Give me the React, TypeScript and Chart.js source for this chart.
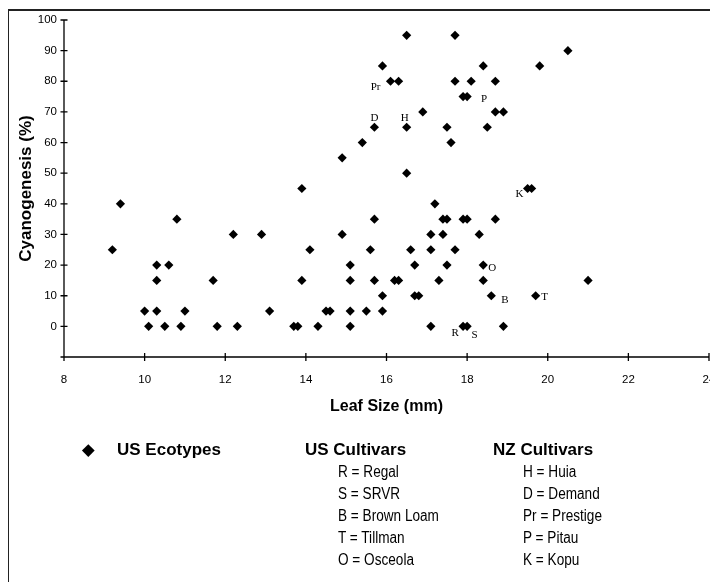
import React, { useEffect, useRef } from 'react';
import { Chart, registerables } from 'chart.js';

Chart.register(...registerables);

// Leaf size (mm) and cyanogenesis (%) for each plotted point
const leafSize = [
  9.2, 9.4, 10.0, 10.1, 10.3, 10.3, 10.3, 10.5, 10.6, 10.8, 10.9, 11.0, 11.7, 11.8, 12.2, 12.3,
  12.9, 13.1, 13.7, 13.8, 13.9, 13.9, 14.1, 14.3, 14.5, 14.6, 14.9, 14.9, 15.1, 15.1, 15.1, 15.1,
  15.4, 15.5, 15.6, 15.7, 15.7, 15.7, 15.9, 15.9, 15.9, 16.1, 16.3, 16.2, 16.3, 16.5, 16.5, 16.5,
  16.6, 16.7, 16.7, 16.8, 16.9, 17.1, 17.1, 17.1, 17.2, 17.3, 17.4, 17.4, 17.5, 17.5, 17.5, 17.6,
  17.7, 17.7, 17.7, 17.9, 18.0, 17.9, 18.0, 17.9, 18.0, 18.1, 18.3, 18.4, 18.4, 18.4, 18.5, 18.6,
  18.7, 18.7, 18.7, 18.9, 18.9, 19.5, 19.6, 19.7, 19.8, 20.5, 21.0,
];
const cyanogenesis = [
  25, 40, 5, 0, 20, 15, 5, 0, 20, 35, 0, 5, 15, 0, 30, 0,
  30, 5, 0, 0, 45, 15, 25, 0, 5, 5, 30, 55, 20, 15, 5, 0,
  60, 5, 25, 65, 35, 15, 85, 10, 5, 80, 80, 15, 15, 95, 65, 50,
  25, 20, 10, 10, 70, 30, 25, 0, 40, 15, 35, 30, 35, 20, 65, 60,
  95, 80, 25, 75, 75, 35, 35, 0, 0, 80, 30, 85, 20, 15, 65, 10,
  80, 70, 35, 70, 0, 45, 45, 10, 85, 90, 15,
];

// Cultivar labels attached to points
const pointLabels = ['Pr', 'P', 'D', 'H', 'K', 'O', 'B', 'T', 'R', 'S'];
const labelLeaf = [16.1, 18.0, 15.7, 16.5, 19.5, 18.4, 18.6, 19.7, 17.9, 18.0];
const labelCyano = [80, 75, 65, 65, 45, 20, 10, 10, 0, 0];
const labelOffsets: [number, number][] = [
  [-15, 5.5], [17, 2.5], [0, -9], [-2, -9], [-8, 5.5], [9, 3], [13.5, 4], [9, 1.5], [-8, 7], [7.5, 8.5],
];

// Axis settings
const xMin = 8;
const xMax = 24;
const xStep = 2;
const yMin = -10;
const yMax = 100;
const yStep = 10;
const xTitle = 'Leaf Size (mm)';
const yTitle = 'Cyanogenesis (%)';

// Legend texts
const legendHeads = ['US Ecotypes', 'US Cultivars', 'NZ Cultivars'];
const usCultivars = ['R = Regal', 'S = SRVR', 'B = Brown Loam', 'T = Tillman', 'O = Osceola'];
const nzCultivars = ['H = Huia', 'D = Demand', 'Pr = Prestige', 'P = Pitau', 'K = Kopu'];

const SANS = '"Liberation Sans", Arial, Helvetica, sans-serif';
const SERIF = '"Liberation Serif", "Times New Roman", serif';

const axesPlugin = {
  id: 'axesDraw',
  beforeDatasetsDraw(chart: any) {
    const { ctx, chartArea, scales } = chart;
    const { left, right, top, bottom } = chartArea;
    const x = scales.x;
    const y = scales.y;
    ctx.save();
    ctx.strokeStyle = '#000';
    ctx.lineWidth = 1.3;
    ctx.beginPath();
    ctx.moveTo(left, top);
    ctx.lineTo(left, bottom);
    ctx.moveTo(left, bottom);
    ctx.lineTo(right, bottom);
    y.ticks.forEach((t: any) => {
      const py = y.getPixelForValue(t.value);
      ctx.moveTo(left - 3.5, py);
      ctx.lineTo(left + 3.5, py);
    });
    x.ticks.forEach((t: any) => {
      const px = x.getPixelForValue(t.value);
      ctx.moveTo(px, bottom - 4);
      ctx.lineTo(px, bottom + 4);
    });
    ctx.stroke();
    ctx.restore();
  },
};

const labelPlugin = {
  id: 'cultivarLabels',
  afterDatasetsDraw(chart: any) {
    const { ctx, scales } = chart;
    ctx.save();
    ctx.fillStyle = '#000';
    ctx.font = `11px ${SERIF}`;
    ctx.textAlign = 'center';
    ctx.textBaseline = 'middle';
    pointLabels.forEach((txt, i) => {
      const px = scales.x.getPixelForValue(labelLeaf[i]) + labelOffsets[i][0];
      const py = scales.y.getPixelForValue(labelCyano[i]) + labelOffsets[i][1];
      ctx.fillText(txt, px, py);
    });
    ctx.restore();
  },
};

export default function App() {
  const canvasRef = useRef<HTMLCanvasElement | null>(null);

  useEffect(() => {
    document.documentElement.style.overflow = 'hidden';
    document.body.style.overflow = 'hidden';
    const canvas = canvasRef.current;
    if (!canvas) return;
    const data = leafSize.map((v, i) => ({ x: v, y: cyanogenesis[i] }));
    const chart = new Chart(canvas, {
      type: 'scatter',
      data: {
        datasets: [
          {
            label: 'US Ecotypes',
            data,
            pointStyle: 'rectRot',
            pointRadius: 4.6,
            pointBackgroundColor: '#000',
            pointBorderColor: '#000',
            pointBorderWidth: 0,
            showLine: false,
          },
        ],
      },
      options: {
        animation: false,
        responsive: false,
        events: [],
        layout: { padding: { left: 0, top: 12, right: 9, bottom: 166 } },
        plugins: {
          legend: { display: false },
          tooltip: { enabled: false },
        },
        scales: {
          x: {
            type: 'linear',
            min: xMin,
            max: xMax,
            border: { display: false },
            grid: { display: false, drawTicks: false },
            ticks: {
              stepSize: xStep,
              color: '#000',
              padding: 16,
              font: { family: SANS, size: 11.5 },
              maxRotation: 0,
            },
            title: {
              display: true,
              text: xTitle,
              color: '#000',
              padding: 0,
              font: { family: SANS, size: 16, weight: 'bold' },
            },
            afterFit: (s: any) => {
              s.height = 59;
              s.paddingLeft = 0;
              s.paddingRight = 0;
            },
          },
          y: {
            type: 'linear',
            min: yMin,
            max: yMax,
            border: { display: false },
            grid: { display: false, drawTicks: false },
            ticks: {
              stepSize: yStep,
              color: '#000',
              padding: 7,
              font: { family: SANS, size: 11.5 },
              callback: (v: any) => (Number(v) < 0 ? '' : String(v)),
            },
            title: {
              display: true,
              text: yTitle,
              color: '#000',
              padding: { top: 8, bottom: 0 },
              font: { family: SANS, size: 17, weight: 'bold' },
            },
            afterFit: (s: any) => {
              s.width = 56;
              s.paddingTop = 0;
              s.paddingBottom = 0;
            },
          },
        },
      } as any,
      plugins: [axesPlugin, labelPlugin],
    });
    return () => chart.destroy();
  }, []);

  const rowH = 22;
  const headTop = 450 - 8 - rowH / 2;
  const headStyle: React.CSSProperties = {
    position: 'absolute',
    top: headTop,
    height: rowH,
    lineHeight: `${rowH}px`,
    fontFamily: SANS,
    fontWeight: 'bold',
    fontSize: 17,
    whiteSpace: 'nowrap',
    color: '#000',
  };
  const itemStyle = (left: number, i: number): React.CSSProperties => ({
    position: 'absolute',
    left,
    top: headTop + rowH * (i + 1),
    height: rowH,
    lineHeight: `${rowH}px`,
    fontFamily: SANS,
    fontSize: 16,
    whiteSpace: 'nowrap',
    color: '#000',
    transform: 'scaleX(0.85)',
    transformOrigin: 'left center',
  });

  return (
    <div style={{ position: 'relative', width: 710, height: 574, overflow: 'hidden', background: '#fff' }}>
      <div
        style={{
          position: 'absolute',
          left: -1,
          top: 1,
          width: 780,
          height: 700,
          border: '2px solid #222',
          boxSizing: 'border-box',
        }}
      />
      <canvas ref={canvasRef} width={710} height={574} style={{ position: 'absolute', left: 0, top: 0 }} />
      <div
        style={{
          position: 'absolute',
          left: 88 - 8 - 4.3,
          top: 450 - 8 - 4.3,
          width: 8.6,
          height: 8.6,
          background: '#000',
          transform: 'rotate(45deg)',
        }}
      />
      <div style={{ ...headStyle, left: 117 - 8 }}>{legendHeads[0]}</div>
      <div style={{ ...headStyle, left: 305 - 8 }}>{legendHeads[1]}</div>
      <div style={{ ...headStyle, left: 493 - 8 }}>{legendHeads[2]}</div>
      {usCultivars.map((t, i) => (
        <div key={'us' + i} style={itemStyle(338 - 8, i)}>
          {t}
        </div>
      ))}
      {nzCultivars.map((t, i) => (
        <div key={'nz' + i} style={itemStyle(523 - 8, i)}>
          {t}
        </div>
      ))}
    </div>
  );
}
